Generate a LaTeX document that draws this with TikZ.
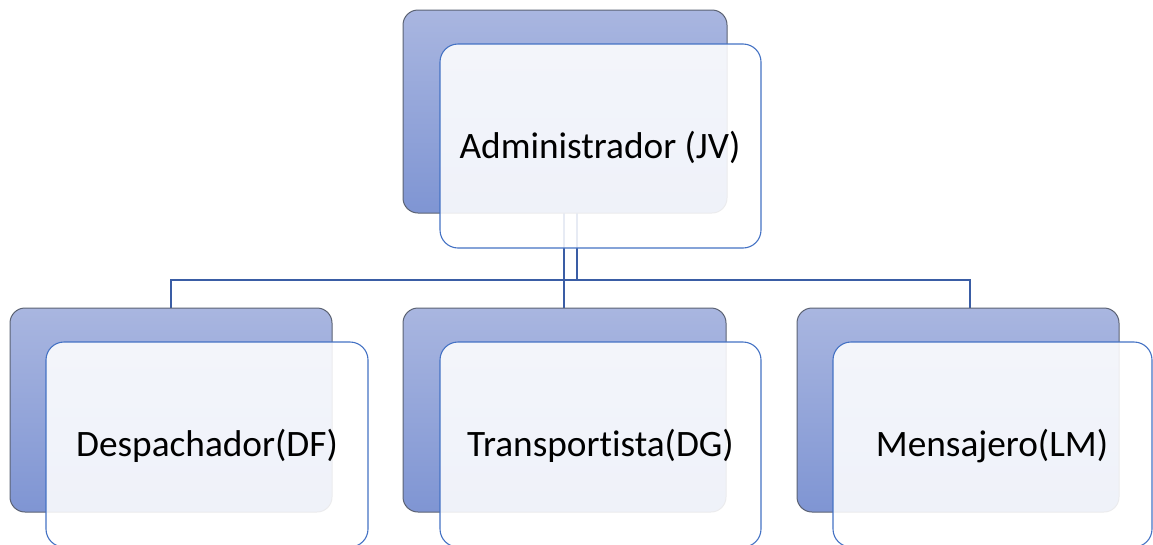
\documentclass[tikz,border=0pt]{standalone}
\usepackage{fontspec}
\setmainfont{Carlito}[Ligatures={NoCommon}]
\definecolor{backtop}{HTML}{A9B6E0}
\definecolor{backbot}{HTML}{7F95D3}
\definecolor{backedge}{HTML}{5B6273}
\definecolor{frontedge}{HTML}{4472C4}
\definecolor{linkblue}{HTML}{3A5DA5}
\begin{document}
\begin{tikzpicture}[x=1pt,y=-1pt,
  backbox/.style={draw=backedge,line width=1pt,rounded corners=15pt,top color=backtop,bottom color=backbot},
  frontbox/.style={draw=frontedge,line width=1.1pt,rounded corners=18pt,fill=white,fill opacity=0.88},
  label/.style={font=\fontsize{37.3}{40}\selectfont,text=black,anchor=center},
  link/.style={draw=linkblue,line width=2pt}]
\useasboundingbox (0,0) rectangle (1153,544);
\clip (0,0) rectangle (1153,544);
% connectors (behind boxes)
\coordinate (jA) at (564,213);
\coordinate (jB) at (577,213);
\coordinate (hL) at (171,280);
\coordinate (hM) at (564,280);
\coordinate (hR) at (970,280);
\coordinate (hB) at (577,280);
\draw[link] (jA) -- (hM) -- (564,308);
\draw[link] (jB) -- (hB);
\draw[link] (171,308) -- (hL) -- (hR) -- (970,308);
% top
\path[backbox] (403,10) rectangle (727,213);
\path[frontbox] (440,44) rectangle (761,248);
\node[label] (adm) at (600,147) {Administrador (JV)};
% left
\path[backbox] (10,308) rectangle (332,512);
\path[frontbox] (46,342) rectangle (368,547);
\node[label] (desp) at (207,446) {Despachador(DF)};
% middle
\path[backbox] (403,308) rectangle (726,512);
\path[frontbox] (440,342) rectangle (761,547);
\node[label] (trans) at (600.5,446) {Transportista(DG)};
% right
\path[backbox] (797,308) rectangle (1119,512);
\path[frontbox] (833,342) rectangle (1152,547);
\node[label] (mens) at (992,446) {Mensajero(LM)};
\end{tikzpicture}
\end{document}
